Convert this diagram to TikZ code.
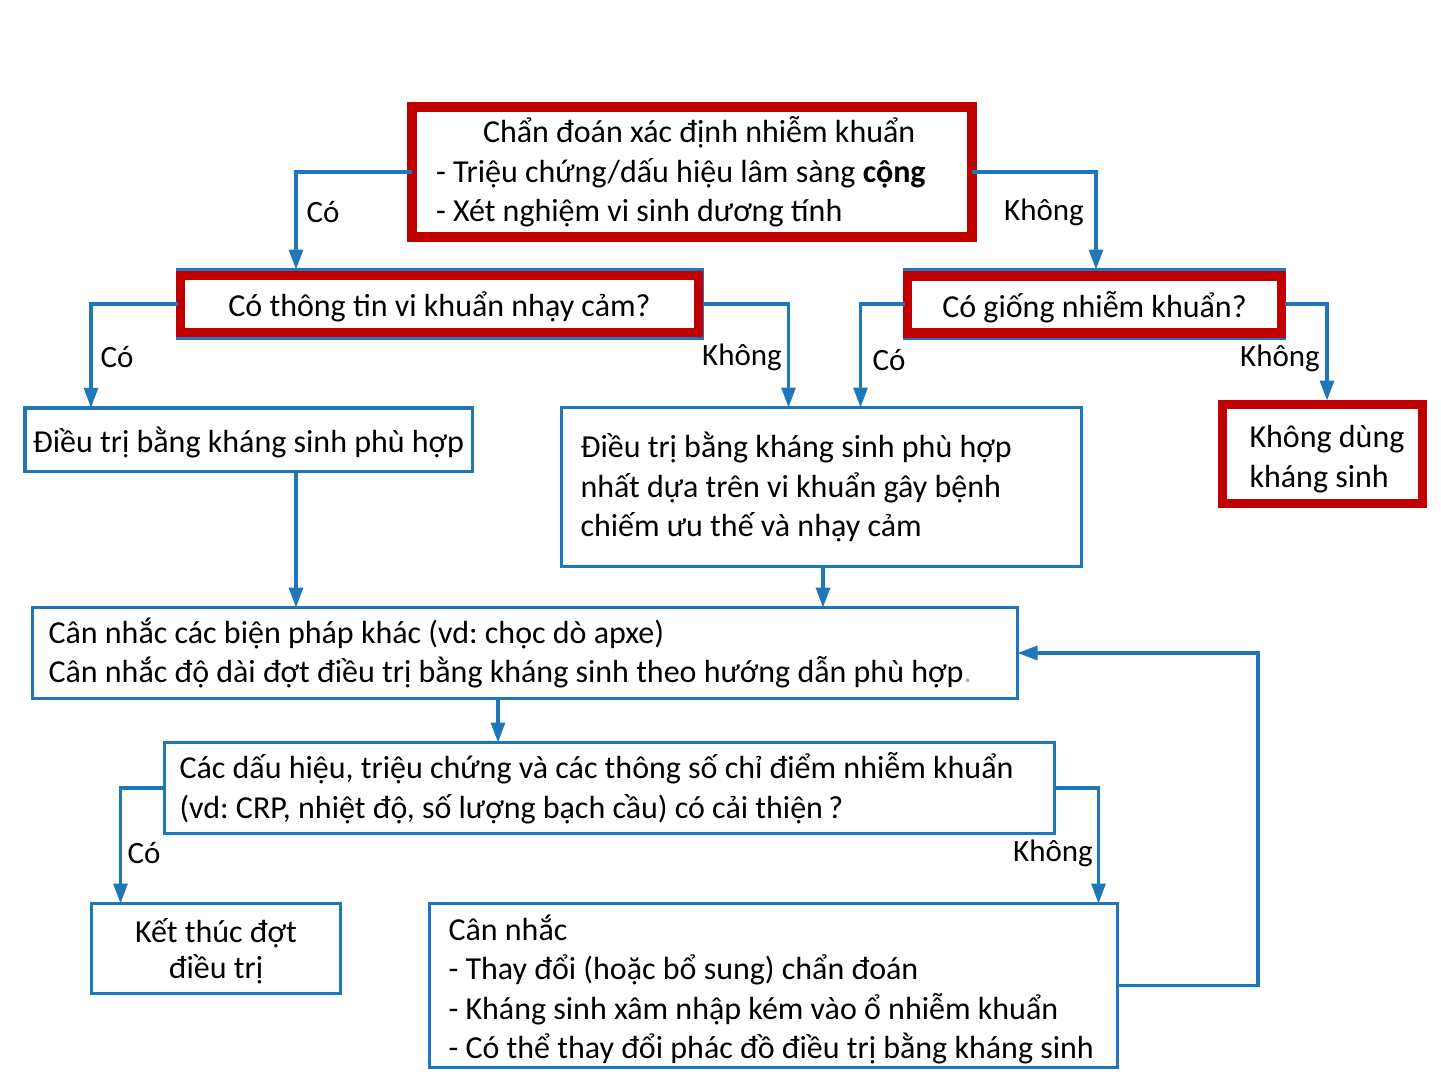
\documentclass[tikz,border=0pt]{standalone}
\usepackage{fontspec}
\setmainfont{Carlito}
\usetikzlibrary{arrows.meta}
\definecolor{lblue}{RGB}{31,119,186}
\definecolor{dred}{RGB}{192,0,0}
\begin{document}
\begin{tikzpicture}[x=1pt,y=-1pt,
  every node/.style={font=\fontsize{32}{39.5}\selectfont\frenchspacing, inner sep=0pt, outer sep=0pt},
  bbox/.style={draw=lblue, line width=3.5pt, fill=white},
  rbox/.style={draw=dred, line width=9.5pt, fill=white},
  lbl/.style={font=\fontsize{31}{37}\selectfont},
  conn/.style={draw=lblue, line width=3.2pt, -{Triangle[length=20pt,width=14pt]}}]
\useasboundingbox[fill=white] (0,0) rectangle (1441,1081);

% top box
\node[rbox, minimum width=560pt, minimum height=130pt, text width=512pt, inner xsep=24pt, align=flush left] (top) at (692,172)
 {\hspace*{47pt}Chẩn đoán xác định nhiễm khuẩn\\- Triệu chứng/dấu hiệu lâm sàng \textbf{cộng}\\- Xét nghiệm vi sinh dương tính};

% box 2
\node[bbox, minimum width=525pt, minimum height=69pt] (b2) at (440,304) {};
\node[rbox, minimum width=518pt, minimum height=57pt, text depth=0pt] (b2r) at (439.5,304) {Có thông tin vi khuẩn nhạy cảm?};

% box 3
\node[bbox, minimum width=380pt, minimum height=69pt] (b3) at (1094.5,304) {};
\node[rbox, minimum width=374pt, minimum height=57pt, text depth=0pt] (b3r) at (1094.5,304.5) {Có giống nhiễm khuẩn?};

% box 4
\node[bbox, minimum width=447.5pt, minimum height=63.5pt, text depth=0pt] (b4) at (248.5,439.5) {Điều trị bằng kháng sinh phù hợp};

% box 5
\node[bbox, minimum width=520pt, minimum height=159pt, text width=482pt, inner xsep=19pt, align=flush left] (b5) at (821.5,487)
 {Điều trị bằng kháng sinh phù hợp\\nhất dựa trên vi khuẩn gây bệnh\\chiếm ưu thế và nhạy cảm};

% box 6
\node[rbox, minimum width=200pt, minimum height=99pt] (b6) at (1322.5,454) {};
\node[text width=146pt, align=flush left] (b6t) at (1322.5,459)
 {\mbox{Không dùng}\\\mbox{kháng sinh}};

% box 7
\node[bbox, minimum width=985pt, minimum height=91pt, text width=953pt, inner xsep=16pt, align=flush left] (b7) at (525,653)
 {\mbox{Cân nhắc các biện pháp khác (vd: chọc dò apxe)}\\\mbox{Cân nhắc độ dài đợt điều trị bằng kháng sinh theo hướng dẫn phù hợp{\color{gray!60}.}}};

% box 8
\node[bbox, minimum width=890pt, minimum height=91pt, text width=860pt, inner xsep=15pt, align=flush left] (b8) at (609.5,788)
 {\mbox{Các dấu hiệu, triệu chứng và các thông số chỉ điểm nhiễm khuẩn}\\\mbox{(vd: CRP, nhiệt độ, số lượng bạch cầu) có cải thiện\,?}};

% box 9
\node[bbox, minimum width=249pt, minimum height=90pt, align=flush center, text depth=0pt] (b9) at (216,948.5)
 {Kết thúc đợt\\[-4pt]điều trị};

% box 10
\node[bbox, minimum width=688pt, minimum height=164pt] (b10) at (773.5,985.5) {};
\node[text width=650pt, align=flush left] (b10t) at (773.5,989.5)
 {Cân nhắc\\\mbox{- Thay đổi (hoặc bổ sung) chẩn đoán}\\\mbox{- Kháng sinh xâm nhập kém vào ổ nhiễm khuẩn}\\\mbox{- Có thể thay đổi phác đồ điều trị bằng kháng sinh}};

% connectors
\draw[conn] (top.west) -| ([xshift=118.5pt]b2.north west);
\draw[conn] (top.east) -| ([xshift=191.5pt]b3.north west);
\draw[conn] (b2.west) -| ([xshift=66.25pt]b4.north west);
\draw[conn] (b2.east) -| ([xshift=227pt]b5.north west);
\draw[conn] (b3.west) -| ([xshift=299pt]b5.north west);
\draw[conn, shorten >=4pt] (b3.east) -| ([xshift=104.5pt]b6.north west);
\draw[conn] ([xshift=47.5pt]b4.south) -- ([xshift=47.5pt]b4.south |- b7.north);
\draw[conn] ([xshift=1.5pt]b5.south) -- ([xshift=1.5pt]b5.south |- b7.north);
\draw[conn] ([xshift=-27pt]b7.south) -- ([xshift=-27pt]b7.south |- b8.north);
\draw[conn] (b8.west) -| ([xshift=29pt]b9.north west);
\draw[conn] (b8.east) -| ([xshift=669pt]b10.north west);
\coordinate (fb) at (1258,655);
\draw[conn] (b10.east) -| (fb |- b7.east) -- (b7.east);

% labels
\node[lbl] (l1) at (323,212) {Có};
\node[lbl] (l2) at (1044,212) {Không};
\node[lbl] (l3) at (117,357) {Có};
\node[lbl] (l4) at (742,357) {Không};
\node[lbl] (l5) at (889,360) {Có};
\node[lbl] (l6) at (1280,358) {Không};
\node[lbl] (l7) at (144,853) {Có};
\node[lbl] (l8) at (1053,853) {Không};
\end{tikzpicture}
\end{document}
